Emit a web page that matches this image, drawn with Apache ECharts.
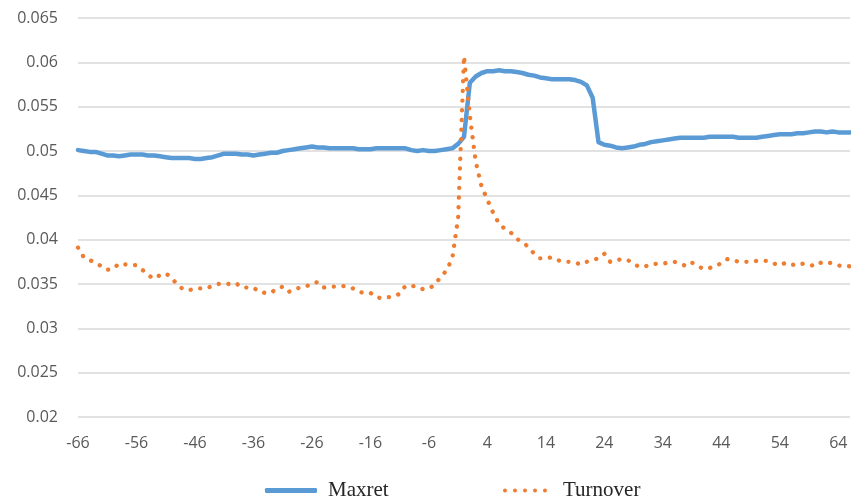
<!DOCTYPE html>
<html>
<head>
<meta charset="utf-8">
<script src="https://cdn.jsdelivr.net/npm/echarts@6/dist/echarts.min.js"></script>
<style>
html,body{margin:0;padding:0;background:#fff;}
#c{width:851px;height:502px;}
</style>
</head>
<body>
<div id="c"></div>
<script>
// Event days -66 .. 66
var days = [];
for (var d = -66; d <= 66; d++) days.push(String(d));

var maxret = [
0.0501,0.0500,0.0499,0.0499,0.0497,0.0495,0.0495,0.0494,0.0495,0.0496,
0.0496,0.0496,0.0495,0.0495,0.0494,0.0493,0.0492,0.0492,0.0492,0.0492,
0.0491,0.0491,0.0492,0.0493,0.0495,0.0497,0.0497,0.0497,0.0496,0.0496,
0.0495,0.0496,0.0497,0.0498,0.0498,0.0500,0.0501,0.0502,0.0503,0.0504,
0.0505,0.0504,0.0504,0.0503,0.0503,0.0503,0.0503,0.0503,0.0502,0.0502,
0.0502,0.0503,0.0503,0.0503,0.0503,0.0503,0.0503,0.0501,0.0500,0.0501,
0.0500,0.0500,0.0501,0.0502,0.0503,0.0508,0.0516,0.0577,0.0584,0.0588,
0.0590,0.0590,0.0591,0.0590,0.0590,0.0589,0.0588,0.0586,0.0585,0.0583,
0.0582,0.0581,0.0581,0.0581,0.0581,0.0580,0.0578,0.0574,0.0560,0.0510,
0.0507,0.0506,0.0504,0.0503,0.0504,0.0505,0.0507,0.0508,0.0510,0.0511,
0.0512,0.0513,0.0514,0.0515,0.0515,0.0515,0.0515,0.0515,0.0516,0.0516,
0.0516,0.0516,0.0516,0.0515,0.0515,0.0515,0.0515,0.0516,0.0517,0.0518,
0.0519,0.0519,0.0519,0.0520,0.0520,0.0521,0.0522,0.0522,0.0521,0.0522,
0.0521,0.0521,0.0521
];

var turnover = [
0.0391,0.0380,0.0377,0.0374,0.0370,0.0366,0.0367,0.0373,0.0372,0.0372,
0.0371,0.0366,0.0360,0.0356,0.0360,0.0362,0.0357,0.0349,0.0344,0.0343,
0.0345,0.0345,0.0345,0.0348,0.0350,0.0350,0.0350,0.0351,0.0346,0.0346,
0.0346,0.0341,0.0340,0.0340,0.0345,0.0347,0.0341,0.0344,0.0346,0.0347,
0.0351,0.0352,0.0346,0.0347,0.0347,0.0348,0.0347,0.0345,0.0341,0.0340,
0.0340,0.0335,0.0334,0.0335,0.0336,0.0339,0.0348,0.0348,0.0347,0.0344,
0.0345,0.0349,0.0358,0.0365,0.0379,0.0425,0.0607,0.0540,0.0488,0.0460,
0.0445,0.0430,0.0418,0.0412,0.0408,0.0401,0.0397,0.0392,0.0384,0.0379,
0.0379,0.0380,0.0377,0.0375,0.0375,0.0374,0.0372,0.0375,0.0377,0.0379,
0.0384,0.0375,0.0377,0.0378,0.0377,0.0373,0.0369,0.0370,0.0372,0.0373,
0.0373,0.0374,0.0375,0.0373,0.0370,0.0374,0.0370,0.0367,0.0368,0.0371,
0.0373,0.0378,0.0377,0.0375,0.0375,0.0375,0.0376,0.0376,0.0376,0.0373,
0.0371,0.0374,0.0372,0.0371,0.0373,0.0372,0.0370,0.0374,0.0375,0.0373,
0.0371,0.0370,0.0370
];

var yMin = 0.02, yMax = 0.065, yStep = 0.005;
var axisFont = '"Open Sans", Lato, sans-serif';
var legendFont = '"Liberation Serif", "DejaVu Serif", serif';
var blue = '#5b9bd5', orange = '#ed7d31';

function dotsPath(n) {
  var p = 'path://';
  for (var i = 0; i < n; i++) {
    var x = i * 10;
    p += 'M' + x + ',2a2,2 0 1,0 4,0a2,2 0 1,0 -4,0Z';
  }
  return p;
}

var chart = echarts.init(document.getElementById('c'), null, {renderer: 'canvas'});
chart.setOption({
  animation: false,
  backgroundColor: '#ffffff',
  grid: {left: 78, right: 1, top: 18, bottom: 85, containLabel: false},
  legend: [
    {
      left: 265, top: 480, padding: [0, 0, 0, 0],
      itemWidth: 52, itemHeight: 5,
      textStyle: {fontFamily: legendFont, fontSize: 21, color: '#262626', padding: [0, 0, 0, 6]},
      data: [{name: 'Maxret', icon: 'roundRect', itemStyle: {color: blue}}]
    },
    {
      left: 503, top: 480, padding: [0, 0, 0, 0],
      itemWidth: 44, itemHeight: 4.4,
      textStyle: {fontFamily: legendFont, fontSize: 21, color: '#262626', padding: [0, 0, 0, 11]},
      data: [{name: 'Turnover', icon: dotsPath(5), itemStyle: {color: orange}}]
    }
  ],
  xAxis: {
    type: 'category',
    data: days,
    boundaryGap: false,
    axisLine: {show: false},
    axisTick: {show: false},
    axisLabel: {interval: 9, color: '#595959', fontSize: 16, fontFamily: axisFont, margin: 18},
    splitLine: {show: false}
  },
  yAxis: {
    type: 'value',
    min: yMin, max: yMax, interval: yStep,
    axisLine: {show: false},
    axisTick: {show: false},
    axisLabel: {color: '#595959', fontSize: 16, fontFamily: axisFont, margin: 20,
      formatter: function (v) { return String(Math.round(v * 1000) / 1000); }},
    splitLine: {lineStyle: {color: '#d9d9d9', width: 1.5}}
  },
  series: [
    {
      name: 'Maxret', type: 'line', data: maxret,
      symbol: 'none', showSymbol: false,
      lineStyle: {color: blue, width: 4.5, join: 'round', cap: 'round'},
      itemStyle: {color: blue}
    },
    {
      name: 'Turnover', type: 'line', data: turnover,
      symbol: 'none', showSymbol: false,
      lineStyle: {color: orange, width: 4.3, type: [0.1, 9.6], cap: 'round', join: 'round'},
      itemStyle: {color: orange}
    }
  ]
});
</script>
</body>
</html>
